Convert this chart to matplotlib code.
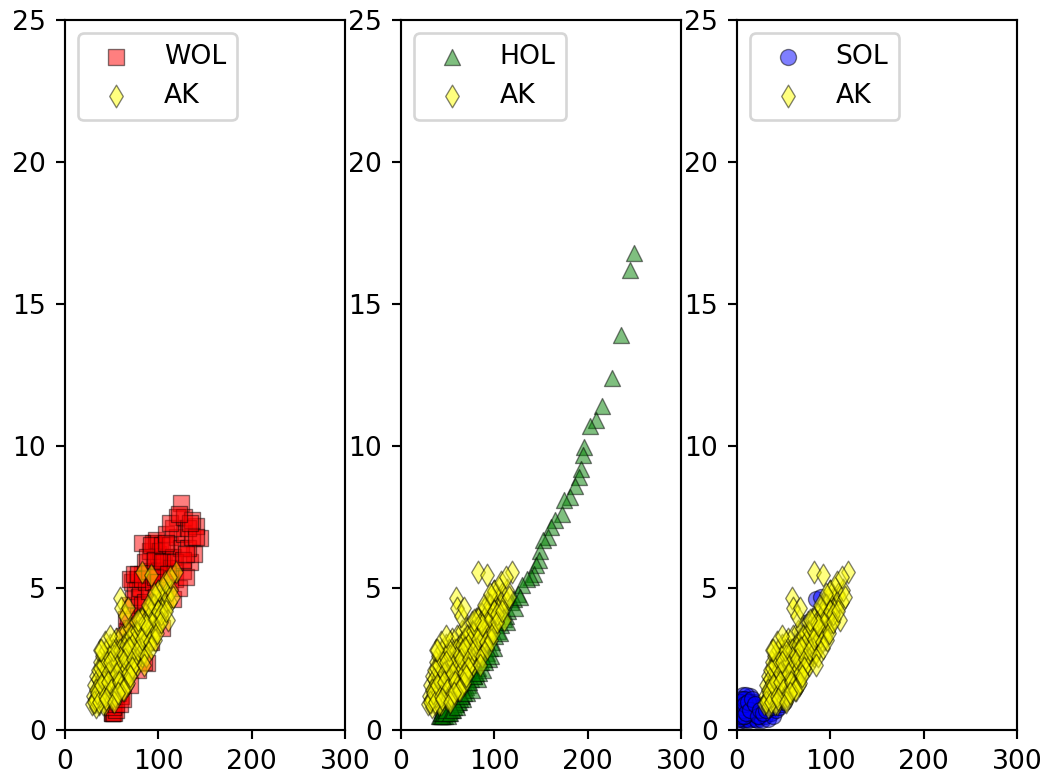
import matplotlib
matplotlib.use('Agg')
from matplotlib import pyplot as plt

#points, x then y
ak_x = [30, 31, 32, 33, 34, 35, 36, 37, 38, 39, 40, 41, 42, 43, 44, 45, 46, 47, 48, 49,
        50, 51, 52, 53, 54, 55, 56, 57, 58, 59, 60, 61, 62, 63, 64, 65, 66, 67, 68, 69,
        70, 71, 72, 73, 74, 75, 76, 77, 78, 79, 80, 81, 82, 83, 84, 85, 86, 87, 88, 89,
        90, 91, 92, 93, 94, 95, 96, 97, 98, 99, 100, 101, 102, 103, 104, 105, 106, 107, 108, 110,
        112, 114, 116, 119, 29, 33, 36, 41, 44, 47, 52, 55, 58, 62, 66, 71, 75, 79, 84, 92,
        59, 60, 64, 67, 83, 92, 100, 107, 112,
        32, 35, 38, 41, 44, 47, 50, 53, 56, 59, 62, 65, 68, 71, 74, 77, 80, 83, 86, 89,
        35, 38, 41, 44, 47, 50, 53, 56, 59, 62, 65, 68, 71, 74, 77, 80, 83, 86, 92, 95,
        33, 37, 42, 46, 51, 55, 60, 64, 69, 73, 78, 82, 87, 91, 96, 100, 103, 38, 43, 48,
        31, 34, 36, 39, 43, 46, 49, 54, 58, 63, 67, 72,
        87, 92, 96, 99, 103, 108, 67, 48, 39, 78, 89, 95, 62, 70, 44, 52, 57, 85]
ak_y = [1.2, 1.6, 1.0, 1.9, 1.4, 2.1, 0.9, 1.7, 2.4, 1.2, 2.6, 1.5, 2.0, 0.9, 2.8, 1.3, 2.3, 1.7, 3.0, 1.1,
        2.6, 1.9, 3.1, 1.4, 2.3, 3.2, 1.7, 2.8, 1.3, 2.0, 3.3, 2.5, 1.7, 3.0, 2.1, 3.5, 1.8, 2.7, 3.2, 2.2,
        3.6, 2.4, 3.0, 2.1, 3.4, 2.7, 3.8, 2.3, 3.1, 2.7, 3.9, 3.3, 2.6, 3.6, 3.0, 4.1, 2.9, 3.5, 3.2, 3.9,
        4.3, 3.4, 3.7, 4.5, 3.2, 4.0, 3.6, 4.6, 3.5, 4.2, 4.9, 3.8, 4.3, 4.6, 3.9, 5.0, 4.4, 4.35, 4.8, 3.87,
        4.5, 4.93, 4.7, 5.55, 0.9, 0.8, 1.2, 0.9, 1.8, 1.2, 1.1, 2.2, 1.6, 1.9, 1.6, 2.8, 2.4, 3.4, 2.7, 3.9,
        4.64, 4.3, 4.0, 4.3, 5.57, 5.45, 4.9, 5.2, 5.4,
        1.1, 1.4, 1.3, 1.9, 1.6, 1.5, 1.6, 1.7, 1.9, 2.3, 2.2, 2.2, 2.5, 2.7, 2.9, 3.0, 3.1, 3.3, 3.4, 3.6,
        1.8, 2.2, 2.3, 2.5, 2.6, 2.2, 2.6, 2.4, 2.8, 2.7, 3.0, 2.9, 3.3, 3.1, 3.5, 3.6, 3.9, 3.8, 4.1, 4.4,
        1.4, 1.2, 1.7, 2.0, 2.8, 2.0, 1.5, 2.5, 2.9, 2.5, 2.8, 3.2, 3.7, 3.1, 3.9, 4.2, 4.1, 2.8, 3.1, 2.4,
        1.0, 1.3, 1.0, 1.6, 1.2, 1.7, 1.4, 1.2, 1.7, 1.4, 2.0, 2.2,
        2.6, 2.9, 3.17, 3.4, 3.8, 4.2, 1.65, 3.3, 2.8, 3.87, 4.4, 4.8, 1.4, 1.9, 1.1, 1.0, 1.3, 2.3]

wol_x = [50, 50, 51, 53, 55, 51, 55, 59, 53, 57, 60, 56, 61, 58, 63, 60, 62, 65, 61, 64,
         67, 63, 66, 69, 65, 68, 71, 74, 70, 73, 76, 72, 75, 78, 81, 88, 84, 79, 82, 85,
         77, 80, 83, 86, 89, 92, 87, 90, 93, 96, 70, 74, 78, 82, 86, 90, 94, 98, 102, 95,
         99, 103, 107, 104, 116, 112, 108, 100, 97, 91, 94, 98, 102, 106, 110, 114, 118, 122, 126, 130,
         134, 138, 145, 82, 88, 92, 96, 100, 104, 108, 112, 116, 120, 124, 128, 132, 136, 140, 124, 120,
         116, 112, 128, 132, 136, 140, 108, 104, 96, 100, 118, 126, 130, 134, 122, 110,
         62, 70, 78, 85]
wol_y = [0.6, 0.6, 0.6, 0.6, 0.7, 0.8, 0.9, 0.9, 1.2, 1.3, 1.2, 1.7, 1.6, 2.0, 1.9, 2.3, 2.6, 2.3, 2.9, 3.0,
         2.7, 3.3, 3.5, 3.1, 3.9, 4.0, 3.6, 3.0, 4.4, 4.6, 3.5, 5.2, 4.9, 4.0, 3.0, 2.35, 3.4, 4.7, 4.4, 3.9,
         5.3, 5.0, 5.5, 4.5, 3.6, 3.1, 5.2, 4.9, 4.3, 3.8, 5.3, 5.5, 5.5, 5.3, 5.9, 5.6, 5.2, 4.7, 4.2, 6.1,
         5.6, 5.0, 4.6, 3.6, 4.6, 5.2, 5.6, 6.2, 6.6, 6.3, 6.6, 6.7, 6.3, 6.0, 6.1, 5.7, 5.3, 5.0, 5.6, 5.4,
         5.9, 6.2, 6.75, 6.6, 6.1, 6.5, 6.0, 5.5, 6.5, 6.9, 6.5, 6.1, 6.8, 6.4, 6.9, 6.4, 6.8, 7.2, 8.0, 7.5,
         7.1, 7.3, 7.5, 7.1, 7.4, 6.8, 6.6, 5.9, 5.4, 5.2, 5.9, 6.0, 6.2, 7.3, 7.6, 5.5,
         1.1, 1.6, 2.1, 2.4]

hol_x = [250, 245, 236, 226, 215, 209, 203, 196, 195, 193, 191, 186, 181, 175, 172, 165, 161, 157, 152, 149,
         148, 145, 143, 139, 135, 130, 125, 121, 118, 115, 112, 110, 107, 104, 101, 98, 95, 92, 89, 86,
         83, 80, 78, 75, 72, 70, 68, 65, 63, 61, 59, 57, 55, 53, 51, 49, 47, 45, 43, 41,
         44, 46, 50, 54, 58, 62, 66, 71, 76, 82, 88, 94, 100,
         42, 43, 44, 45, 47, 48, 52, 56, 60, 64, 68, 73, 78, 84, 90, 96, 106, 114, 122, 128]
hol_y = [16.8, 16.2, 13.9, 12.4, 11.4, 10.9, 10.7, 9.95, 9.7, 9.2, 8.9, 8.6, 8.2, 8.1, 7.6, 7.4, 7.15, 6.8, 6.7, 6.3,
         6.0, 5.8, 5.5, 5.4, 5.3, 5.1, 4.8, 4.6, 4.5, 4.2, 4.0, 3.9, 3.7, 3.5, 3.3, 3.1, 2.9, 2.7, 2.5, 2.4,
         2.2, 2.0, 1.9, 1.8, 1.6, 1.5, 1.4, 1.2, 1.1, 1.0, 0.9, 0.8, 0.7, 0.7, 0.6, 0.6, 0.5, 0.5, 0.5, 0.5,
         0.7, 0.9, 0.5, 0.8, 0.9, 1.0, 1.1, 1.3, 1.4, 1.8, 2.1, 2.5, 2.9,
         0.5, 0.6, 0.5, 0.6, 0.6, 0.7, 0.6, 0.7, 0.8, 1.2, 1.3, 1.7, 1.9, 2.0, 2.4, 2.6, 3.4, 3.8, 4.3, 4.7]

sol_x = [2, 3, 4, 5, 6, 7, 8, 9, 10, 11, 12, 13, 14, 15, 16, 17, 18, 19, 20, 2,
         3, 5, 7, 9, 11, 13, 15, 18, 21, 24, 27, 30, 33, 36, 39, 42, 45, 48, 50, 22,
         26, 30, 35, 40, 46, 52, 58, 64, 70, 76, 85, 90, 6, 10, 14, 4, 8, 12,
         1, 2, 3, 4, 5, 6, 7, 8, 9, 10, 12, 14, 16, 19, 22, 25, 28, 31, 34, 37, 40, 43, 46]
sol_y = [0.3, 0.5, 0.8, 0.4, 1.0, 0.6, 0.9, 0.4, 1.1, 0.7, 0.4, 0.9, 1.2, 0.5, 0.8, 0.4, 1.0, 0.6, 0.4, 0.9,
         0.7, 0.6, 0.35, 0.75, 0.55, 0.35, 0.7, 0.55, 0.35, 0.5, 0.35, 0.5, 0.4, 0.6, 0.5, 0.7, 0.8, 0.9, 1.0, 0.7,
         0.8, 0.9, 1.1, 1.4, 1.8, 2.2, 2.6, 3.0, 3.4, 3.8, 4.6, 4.7, 1.25, 1.25, 1.0, 1.1, 0.5, 0.6,
         0.4, 0.6, 1.0, 0.5, 0.8, 0.7, 1.1, 0.5, 0.9, 0.6, 1.0, 0.7, 1.1, 0.9, 0.5, 0.7, 0.6, 0.7, 0.8, 0.8, 0.9, 1.0, 1.1]

labels = ['WOL', 'HOL', 'SOL']
markers = ['s', '^', 'o']
colors = ['red', 'green', 'blue']
xs = [wol_x, hol_x, sol_x]
ys = [wol_y, hol_y, sol_y]

dpi = 192
fig, axes = plt.subplots(1, 3, figsize=(1050 / dpi, 779 / dpi), dpi=dpi)
for ax, lab, m, c, x, y in zip(axes, labels, markers, colors, xs, ys):
    ax.scatter(x, y, marker=m, c=c, alpha=0.5, edgecolors='k', linewidths=0.5, label=lab)
    ax.scatter(ak_x, ak_y, marker='d', c='yellow', alpha=0.5, edgecolors='k', linewidths=0.5, label='AK')
    ax.set_xlim(0, 300)
    ax.set_ylim(0, 25)
    ax.legend(loc='upper left')

fig.subplots_adjust(left=65 / 1050, right=1017 / 1050, top=1 - 20 / 779, bottom=1 - 730 / 779, wspace=56 / 280)
fig.savefig('out.png', dpi=dpi)
